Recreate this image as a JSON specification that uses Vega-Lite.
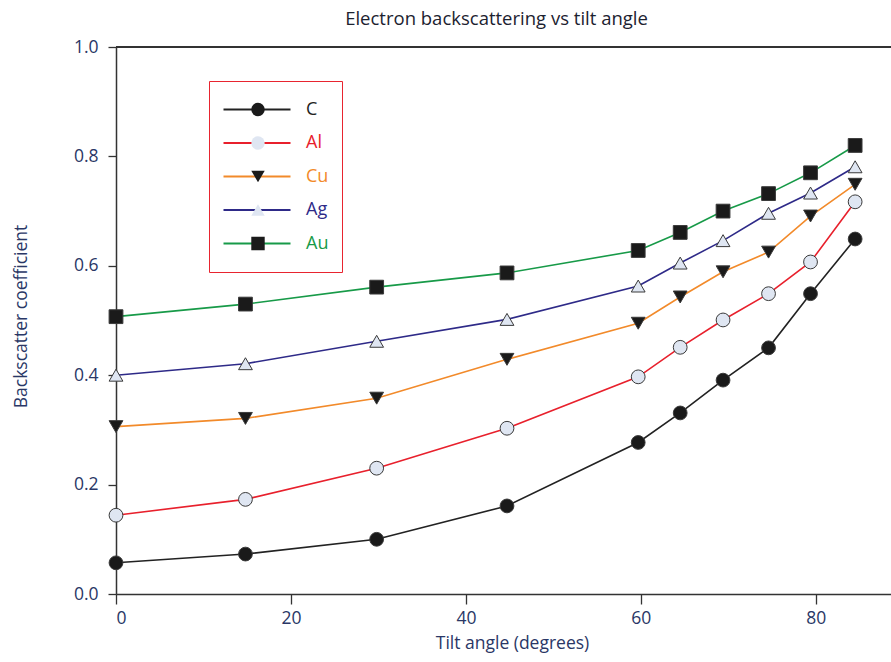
{
  "$schema": "https://vega.github.io/schema/vega-lite/v6.json",
  "autosize": "none",
  "padding": {"left": 116, "top": 47, "right": 0, "bottom": 68},
  "width": 775,
  "height": 547,
  "background": "white",
  "title": {
    "text": "Electron backscattering vs tilt angle",
    "anchor": "middle",
    "dx": -7,
    "offset": 10,
    "fontSize": 18.5,
    "fontWeight": "normal",
    "font": "Open Sans",
    "color": "#1c2230"
  },
  "config": {
    "view": {"stroke": null},
    "font": "Open Sans",
    "axis": {
      "domainColor": "#333333",
      "domainWidth": 1.5,
      "tickColor": "#333333",
      "tickWidth": 1.3,
      "grid": false,
      "labelColor": "#2a3766",
      "titleColor": "#2a3766",
      "labelFontSize": 17.5,
      "titleFontSize": 17.5,
      "titleFontWeight": "normal",
      "labelFont": "Open Sans",
      "titleFont": "Open Sans"
    }
  },
  "data": {
    "values": [
      {"angle": 0, "bs": 0.057, "metal": "C"},
      {"angle": 14.8, "bs": 0.073, "metal": "C"},
      {"angle": 29.8, "bs": 0.100, "metal": "C"},
      {"angle": 44.7, "bs": 0.161, "metal": "C"},
      {"angle": 59.7, "bs": 0.277, "metal": "C"},
      {"angle": 64.5, "bs": 0.331, "metal": "C"},
      {"angle": 69.4, "bs": 0.391, "metal": "C"},
      {"angle": 74.6, "bs": 0.450, "metal": "C"},
      {"angle": 79.4, "bs": 0.549, "metal": "C"},
      {"angle": 84.5, "bs": 0.649, "metal": "C"},
      {"angle": 0, "bs": 0.144, "metal": "Al"},
      {"angle": 14.8, "bs": 0.173, "metal": "Al"},
      {"angle": 29.8, "bs": 0.230, "metal": "Al"},
      {"angle": 44.7, "bs": 0.303, "metal": "Al"},
      {"angle": 59.7, "bs": 0.397, "metal": "Al"},
      {"angle": 64.5, "bs": 0.451, "metal": "Al"},
      {"angle": 69.4, "bs": 0.501, "metal": "Al"},
      {"angle": 74.6, "bs": 0.549, "metal": "Al"},
      {"angle": 79.4, "bs": 0.607, "metal": "Al"},
      {"angle": 84.5, "bs": 0.717, "metal": "Al"},
      {"angle": 0, "bs": 0.306, "metal": "Cu"},
      {"angle": 14.8, "bs": 0.321, "metal": "Cu"},
      {"angle": 29.8, "bs": 0.358, "metal": "Cu"},
      {"angle": 44.7, "bs": 0.429, "metal": "Cu"},
      {"angle": 59.7, "bs": 0.495, "metal": "Cu"},
      {"angle": 64.5, "bs": 0.543, "metal": "Cu"},
      {"angle": 69.4, "bs": 0.589, "metal": "Cu"},
      {"angle": 74.6, "bs": 0.625, "metal": "Cu"},
      {"angle": 79.4, "bs": 0.691, "metal": "Cu"},
      {"angle": 84.5, "bs": 0.749, "metal": "Cu"},
      {"angle": 0, "bs": 0.400, "metal": "Ag"},
      {"angle": 14.8, "bs": 0.421, "metal": "Ag"},
      {"angle": 29.8, "bs": 0.462, "metal": "Ag"},
      {"angle": 44.7, "bs": 0.502, "metal": "Ag"},
      {"angle": 59.7, "bs": 0.563, "metal": "Ag"},
      {"angle": 64.5, "bs": 0.605, "metal": "Ag"},
      {"angle": 69.4, "bs": 0.646, "metal": "Ag"},
      {"angle": 74.6, "bs": 0.696, "metal": "Ag"},
      {"angle": 79.4, "bs": 0.733, "metal": "Ag"},
      {"angle": 84.5, "bs": 0.781, "metal": "Ag"},
      {"angle": 0, "bs": 0.507, "metal": "Au"},
      {"angle": 14.8, "bs": 0.530, "metal": "Au"},
      {"angle": 29.8, "bs": 0.561, "metal": "Au"},
      {"angle": 44.7, "bs": 0.587, "metal": "Au"},
      {"angle": 59.7, "bs": 0.628, "metal": "Au"},
      {"angle": 64.5, "bs": 0.661, "metal": "Au"},
      {"angle": 69.4, "bs": 0.700, "metal": "Au"},
      {"angle": 74.6, "bs": 0.732, "metal": "Au"},
      {"angle": 79.4, "bs": 0.770, "metal": "Au"},
      {"angle": 84.5, "bs": 0.820, "metal": "Au"}
    ]
  },
  "encoding": {
    "x": {
      "field": "angle",
      "type": "quantitative",
      "scale": {"domain": [0, 88.6], "nice": false, "zero": false},
      "axis": {
        "title": "Tilt angle (degrees)",
        "values": [0, 20, 40, 60, 80],
        "format": "d",
        "tickSize": 10,
        "labelPadding": 5,
        "titleX": 396,
        "titleY": 40,
        "titleBaseline": "top",
        "titleAnchor": null
      }
    },
    "y": {
      "field": "bs",
      "type": "quantitative",
      "scale": {"domain": [0, 1], "nice": false},
      "axis": {
        "title": "Backscatter coefficient",
        "values": [0, 0.2, 0.4, 0.6, 0.8, 1.0],
        "format": ".1f",
        "tickSize": 8,
        "labelPadding": 10,
        "titleX": -86,
        "titleY": 269,
        "titleAngle": -90,
        "titleAlign": "center",
        "titleBaseline": "bottom",
        "titleAnchor": null
      }
    }
  },
  "layer": [
    {
      "mark": {"type": "rule", "color": "#333333", "strokeWidth": 1.5},
      "encoding": {
        "x": {"datum": 0},
        "x2": {"datum": 88.6},
        "y": {"datum": 1}
      }
    },
    {
      "mark": {"type": "line", "strokeWidth": 1.6},
      "encoding": {
        "color": {
          "field": "metal",
          "type": "nominal",
          "scale": {
            "domain": ["C", "Al", "Cu", "Ag", "Au"],
            "range": ["#222222", "#e8202c", "#f28a2a", "#2e2a88", "#179a48"]
          },
          "legend": {
            "title": null,
            "orient": "none",
            "legendX": 93,
            "legendY": 34,
            "strokeColor": "#e8242f",
            "padding": 13,
            "symbolType": "stroke",
            "symbolSize": 4489,
            "symbolStrokeWidth": 2.2,
            "labelFontSize": 18,
            "labelOffset": 14,
            "labelFont": "Open Sans",
            "clipHeight": 31,
            "rowPadding": 2.5,
            "encode": {
              "labels": {
                "update": {
                  "fill": {"scale": "color", "field": "value"}
                }
              }
            }
          }
        }
      }
    },
    {
      "mark": {"type": "point", "filled": true, "size": 190, "strokeWidth": 1, "opacity": 1},
      "encoding": {
        "stroke": {"value": "#3a3a3a"},
        "shape": {
          "field": "metal",
          "type": "nominal",
          "scale": {
            "range": ["triangle-up", "circle", "square", "circle", "triangle-down"]
          },
          "legend": {
            "title": null,
            "values": ["C", "Al", "Cu", "Ag", "Au"],
            "orient": "none",
            "legendX": 120,
            "legendY": 34,
            "padding": 13,
            "symbolSize": 180,
            "symbolStrokeWidth": 1.2,
            "symbolStrokeColor": "#3a3a3a",
            "labelFontSize": 18,
            "labelOffset": 14,
            "labelOpacity": 0,
            "clipHeight": 31,
            "rowPadding": 2.5
          }
        },
        "fill": {
          "field": "metal",
          "type": "nominal",
          "scale": {
            "range": ["#dfe6f2", "#dfe6f2", "#1a1a1a", "#1a1a1a", "#1a1a1a"]
          },
          "legend": {
            "title": null,
            "values": ["C", "Al", "Cu", "Ag", "Au"],
            "orient": "none",
            "legendX": 120,
            "legendY": 34,
            "padding": 13,
            "symbolSize": 180,
            "symbolStrokeWidth": 1.2,
            "symbolStrokeColor": "#3a3a3a",
            "labelFontSize": 18,
            "labelOffset": 14,
            "labelOpacity": 0,
            "clipHeight": 31,
            "rowPadding": 2.5
          }
        }
      }
    }
  ]
}
